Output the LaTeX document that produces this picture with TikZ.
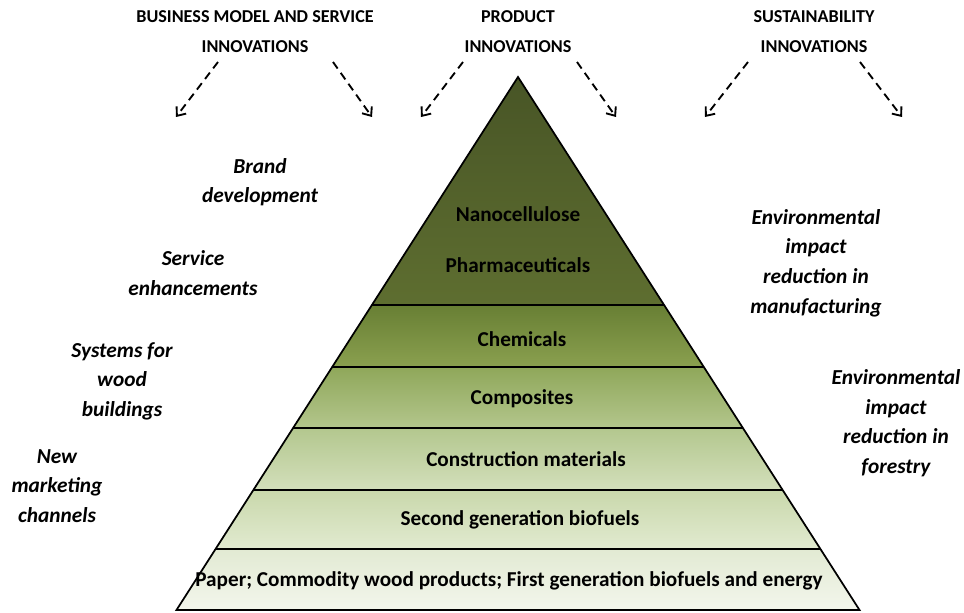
\documentclass[tikz,border=0pt]{standalone}
\usepackage{fontspec}
\setmainfont{Carlito}
\usetikzlibrary{arrows.meta}
\definecolor{bA1}{HTML}{485526}
\definecolor{bA2}{HTML}{5E6E30}
\definecolor{bB1}{HTML}{687F34}
\definecolor{bB2}{HTML}{8AA04F}
\definecolor{bC1}{HTML}{8FA75A}
\definecolor{bC2}{HTML}{B3C68C}
\definecolor{bD1}{HTML}{B3C78E}
\definecolor{bD2}{HTML}{D3DFBB}
\definecolor{bE1}{HTML}{C9D8AB}
\definecolor{bE2}{HTML}{E1EAD0}
\definecolor{bF1}{HTML}{E2EAD3}
\definecolor{bF2}{HTML}{F3F6EC}
\tikzset{
  band/.style={draw=black, line width=1.3pt, line join=miter},
  head/.style={font=\bfseries\fontsize{13.6}{22.5}\selectfont, align=center, inner sep=0pt},
  lbl/.style={font=\bfseries\itshape\fontsize{16}{22.2}\selectfont, align=center, inner sep=0pt},
  lay/.style={font=\bfseries\fontsize{15.9}{18}\selectfont, inner sep=0pt},
  darr/.style={dashed, dash pattern=on 6pt off 4pt, line width=1.4pt, -{Straight Barb[length=5.5pt,width=9pt]}}
}
\begin{document}
\begin{tikzpicture}[x=0.75pt,y=-0.75pt]
\useasboundingbox (0,0) rectangle (964,613);
% band coordinates
\coordinate (apex) at (518,77);
\coordinate (l1) at (371.7,305); \coordinate (r1) at (664.3,305);
\coordinate (l2) at (331.9,367); \coordinate (r2) at (704.1,367);
\coordinate (l3) at (292.8,428); \coordinate (r3) at (743.2,428);
\coordinate (l4) at (253.0,490); \coordinate (r4) at (783.0,490);
\coordinate (l5) at (215.1,549); \coordinate (r5) at (820.9,549);
\coordinate (l6) at (176.5,610); \coordinate (r6) at (859.5,610);
% bands
\fill[top color=bA1, bottom color=bA2] (apex) -- (r1) -- (l1) -- cycle;
\fill[top color=bB1, bottom color=bB2] (l1) -- (r1) -- (r2) -- (l2) -- cycle;
\fill[top color=bC1, bottom color=bC2] (l2) -- (r2) -- (r3) -- (l3) -- cycle;
\fill[top color=bD1, bottom color=bD2] (l3) -- (r3) -- (r4) -- (l4) -- cycle;
\fill[top color=bE1, bottom color=bE2] (l4) -- (r4) -- (r5) -- (l5) -- cycle;
\fill[top color=bF1, bottom color=bF2] (l5) -- (r5) -- (r6) -- (l6) -- cycle;
\draw[band] (apex) -- (r6) -- (l6) -- cycle;
\draw[band] (l1) -- (r1) (l2) -- (r2) (l3) -- (r3) (l4) -- (r4) (l5) -- (r5);
% layer labels
\node[lay] (nano) at (518,214) {Nanocellulose};
\node[lay] (pharma) at (518,265) {Pharmaceuticals};
\node[lay] (chem) at (522,339) {Chemicals};
\node[lay] (comp) at (522,399) {Composites};
\node[lay] (constr) at (526,459) {Construction materials};
\node[lay] (second) at (520,520) {Second generation biofuels};
\node[lay] (paper) at (509,581) {Paper; Commodity wood products; First generation biofuels and energy};
% headers
\node[head] (bm) at (255,32) {BUSINESS MODEL AND SERVICE\\INNOVATIONS};
\node[head] (prod) at (518,32) {PRODUCT\\INNOVATIONS};
\node[head] (sust) at (814,32) {SUSTAINABILITY\\INNOVATIONS};
% arrows
\coordinate (a1s) at (218,62); \coordinate (a1e) at (176,117);
\coordinate (a2s) at (333,62); \coordinate (a2e) at (372,117);
\coordinate (a3s) at (463,62); \coordinate (a3e) at (421,117);
\coordinate (a4s) at (577,62); \coordinate (a4e) at (616,117);
\coordinate (a5s) at (748,62); \coordinate (a5e) at (705,117);
\coordinate (a6s) at (860,62); \coordinate (a6e) at (902,117);
\draw[darr] (a1s) -- (a1e);
\draw[darr] (a2s) -- (a2e);
\draw[darr] (a3s) -- (a3e);
\draw[darr] (a4s) -- (a4e);
\draw[darr] (a5s) -- (a5e);
\draw[darr] (a6s) -- (a6e);
% side labels
\node[lbl] (brand) at (260,182) {Brand\\development};
\node[lbl] (serv) at (193,273) {Service\\enhancements};
\node[lbl] (sys) at (122,381) {Systems for\\wood\\buildings};
\node[lbl] (mkt) at (57,486) {New\\marketing\\channels};
\node[lbl] (envm) at (816,263) {Environmental\\impact\\reduction in\\manufacturing};
\node[lbl] (envf) at (896,423) {Environmental\\impact\\reduction in\\forestry};
\end{tikzpicture}
\end{document}
